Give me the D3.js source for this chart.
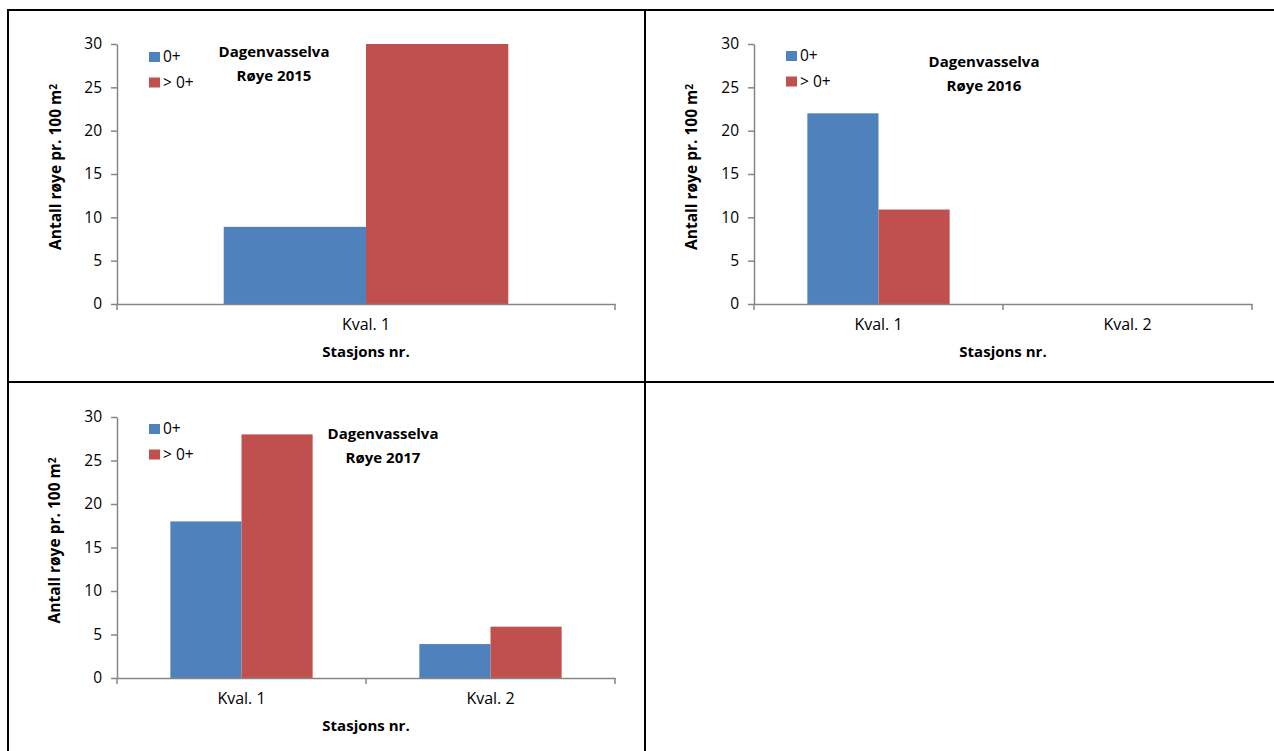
<!DOCTYPE html>
<html><head><meta charset="utf-8">
<script src="https://cdn.jsdelivr.net/npm/d3@7"></script>
<style>
html,body{margin:0;padding:0;background:#fff;}
svg{display:block;}
text{font-family:"Open Sans",Lato,sans-serif;fill:#000;}
</style></head><body>
<svg id="c" width="1274" height="751"></svg>
<script>
// ---- data ----
const seriesNames = ["0+", "> 0+"];
const yTicks = [0, 5, 10, 15, 20, 25, 30];
const cats2015 = ["Kval. 1"];
const young2015 = [8.9];
const older2015 = [30];
const cats2016 = ["Kval. 1", "Kval. 2"];
const young2016 = [22, 0];
const older2016 = [10.9, 0];
const cats2017 = ["Kval. 1", "Kval. 2"];
const young2017 = [18, 3.9];
const older2017 = [28, 5.9];
const titles = [["Dagenvasselva", "Røye 2015"], ["Dagenvasselva", "Røye 2016"], ["Dagenvasselva", "Røye 2017"]];
const colors = ["#4F81BD", "#C0504D"];
const FONT = "'Open Sans', Lato, sans-serif";

const svg = d3.select("#c");

// table borders
const borderG = svg.append("g").attr("stroke", "#000").attr("stroke-width", 2);
borderG.append("line").attr("x1", 7).attr("x2", 1274).attr("y1", 10).attr("y2", 10);
borderG.append("line").attr("x1", 7).attr("x2", 1274).attr("y1", 382).attr("y2", 382);
borderG.append("line").attr("x1", 8).attr("x2", 8).attr("y1", 9).attr("y2", 751);
borderG.append("line").attr("x1", 645).attr("x2", 645).attr("y1", 9).attr("y2", 751);

const panels = [
  {cats: cats2015, s: [young2015, older2015], title: titles[0], x0: 117, x1: 615, y0: 304, y1: 44,
   leg: [149, 52], tc: [274, 52], ytx: 56},
  {cats: cats2016, s: [young2016, older2016], title: titles[1], x0: 754, x1: 1252, y0: 304, y1: 44,
   leg: [786, 51], tc: [984, 62], ytx: 692},
  {cats: cats2017, s: [young2017, older2017], title: titles[2], x0: 117, x1: 615, y0: 678, y1: 417,
   leg: [149, 424], tc: [383, 434], ytx: 55}
];

panels.forEach(p => {
  const g = svg.append("g");
  const x = d3.scaleBand().domain(p.cats).range([p.x0, p.x1]).paddingInner(0).paddingOuter(0);
  const y = d3.scaleLinear().domain([0, 30]).range([p.y0, p.y1]);
  const bw = x.bandwidth() / 3.5;
  const sub = d3.scaleBand().domain(seriesNames).range([0.75 * bw, 2.75 * bw]);

  // bars
  seriesNames.forEach((sn, si) => {
    g.append("g").selectAll("rect").data(p.cats.map((c, i) => ({c, v: p.s[si][i]})))
      .join("rect")
      .attr("x", d => x(d.c) + sub(sn))
      .attr("width", sub.bandwidth())
      .attr("y", d => y(d.v))
      .attr("height", d => y(0) - y(d.v))
      .attr("fill", colors[si]);
  });

  // y axis
  const ya = g.append("g").attr("transform", `translate(${p.x0},0)`)
    .call(d3.axisLeft(y).tickValues(yTicks).tickSize(6).tickPadding(9).tickSizeOuter(0));
  ya.select(".domain").attr("stroke", "#868686").attr("stroke-width", 1.5);
  ya.selectAll(".tick line").attr("stroke", "#868686").attr("stroke-width", 1.5);
  ya.selectAll(".tick text").style("font-family", FONT).style("font-size", "15.5px").attr("fill", "#000");

  // x axis
  const xa = g.append("g").attr("transform", `translate(0,${p.y0})`)
    .call(d3.axisBottom(x).tickSize(0).tickPadding(15));
  xa.select(".domain").attr("stroke", "#868686").attr("stroke-width", 1.5);
  xa.selectAll(".tick text").style("font-family", FONT).style("font-size", "16px").attr("fill", "#000");
  const bounds = [p.x0].concat(p.cats.map(c => x(c) + x.bandwidth()));
  xa.selectAll("line.bnd").data(bounds).join("line").attr("class", "bnd")
    .attr("x1", d => d).attr("x2", d => d).attr("y1", 0).attr("y2", 6)
    .attr("stroke", "#868686").attr("stroke-width", 1.5);

  // x title
  g.append("text").attr("x", (p.x0 + p.x1) / 2).attr("y", p.y0 + 48).attr("dy", "0.35em")
    .attr("text-anchor", "middle").style("font-size", "15px").style("font-weight", "bold")
    .text("Stasjons nr.");

  // y title
  const yt = g.append("text")
    .attr("transform", `translate(${p.ytx},${(p.y0 + p.y1) / 2 - 7}) rotate(-90)`)
    .attr("text-anchor", "middle").attr("dy", "0.35em")
    .style("font-size", "15.5px").style("font-weight", "bold");
  yt.append("tspan").text("Antall røye pr. 100 m");
  yt.append("tspan").attr("dy", "-0.45em").style("font-size", "10px").text("2");

  // legend
  seriesNames.forEach((sn, si) => {
    const ly = p.leg[1] + si * 25.5;
    g.append("rect").attr("x", p.leg[0]).attr("y", ly).attr("width", 11).attr("height", 10).attr("fill", colors[si]);
    g.append("text").attr("x", p.leg[0] + 14).attr("y", ly + 5).attr("dy", "0.35em")
      .style("font-size", "15.5px").text(sn);
  });

  // title
  p.title.forEach((t, ti) => {
    g.append("text").attr("x", p.tc[0]).attr("y", p.tc[1] + ti * 24).attr("dy", "0.35em")
      .attr("text-anchor", "middle").style("font-size", "15px").style("font-weight", "bold").text(t);
  });
});
</script></body></html>
